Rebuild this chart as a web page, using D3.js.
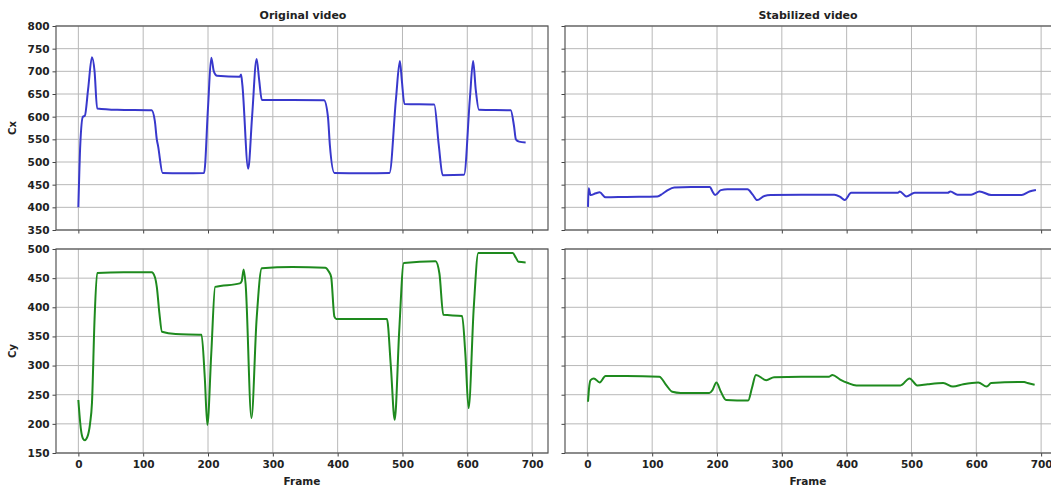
<html>
  <head>
    <title> Cx / Cy </title>
    <style>
      body { margin: 0; background: #fff; }
      text { font-family: "DejaVu Sans", sans-serif; }
    </style>
  </head>
  <body>
  <script src="https://d3js.org/d3.v7.min.js"></script>

    <script>
    var w = 1051;
    var h = 489;

    // frame numbers and values
    var origCxFrames = [0, 3, 7, 10, 15, 21, 25, 29, 60, 113, 118, 121, 123, 130, 160, 194, 200, 205, 209, 214, 249, 251, 253, 262, 268, 275, 279, 283, 330, 379, 385, 388, 395, 440, 480, 490, 496, 499, 503, 549, 556, 562, 595, 604, 609, 613, 618, 667, 672, 675, 680, 690];
    var origCxValues = [400, 540, 600, 602, 660, 731, 700, 618, 615, 614, 590, 550, 535, 476, 475, 476, 620, 730, 700, 690, 688, 693, 670, 485, 600, 727, 680, 637, 637, 636, 600, 537, 476, 475, 476, 640, 723, 680, 628, 627, 537, 471, 472, 640, 723, 660, 615, 614, 580, 550, 545, 543];

    var origCyFrames = [0, 4, 7, 10, 14, 18, 21, 25, 29, 70, 113, 118, 121, 125, 129, 150, 190, 195, 199, 205, 211, 249, 252, 255, 258, 267, 275, 283, 330, 381, 386, 390, 395, 398, 430, 476, 482, 488, 495, 502, 551, 557, 563, 592, 597, 602, 610, 617, 670, 675, 679, 690];
    var origCyValues = [241, 190, 175, 172, 178, 200, 236, 380, 459, 460, 460, 452, 435, 390, 358, 354, 353, 280, 198, 320, 435, 441, 445, 465, 440, 210, 380, 467, 469, 468, 462, 452, 384, 380, 380, 380, 300, 207, 360, 476, 479, 458, 387, 385, 320, 227, 400, 493, 493, 485, 478, 477];

    var stabCxFrames = [1, 2, 5, 13, 19, 28, 60, 108, 116, 124, 134, 160, 189, 193, 197, 206, 216, 247, 255, 262, 273, 283, 330, 381, 390, 397, 407, 479, 482, 492, 505, 556, 560, 571, 592, 605, 623, 670, 682, 692];
    var stabCxValues = [401, 442, 427, 431, 433, 422, 423, 424, 430, 438, 444, 445, 445, 435, 427, 438, 440, 440, 428, 416, 425, 427, 428, 428, 423, 416, 432, 432, 435, 424, 432, 432, 435, 428, 428, 435, 427, 427, 435, 438];

    var stabCyFrames = [1, 3, 5, 10, 19, 28, 60, 111, 122, 131, 144, 188, 193, 199, 206, 214, 248, 254, 260, 276, 288, 330, 373, 378, 390, 402, 415, 483, 497, 509, 525, 549, 564, 580, 603, 616, 623, 674, 679, 690];
    var stabCyValues = [238, 265, 275, 278, 271, 282, 282, 281, 266, 255, 253, 253, 258, 271, 255, 241, 240, 262, 284, 275, 280, 281, 281, 284, 276, 270, 266, 266, 278, 266, 268, 270, 264, 268, 271, 264, 270, 272, 270, 267];

    var xTicks = [0, 100, 200, 300, 400, 500, 600, 700];
    var cxTicks = [350, 400, 450, 500, 550, 600, 650, 700, 750, 800];
    var cyTicks = [150, 200, 250, 300, 350, 400, 450, 500];

    var titles = ['Original video', 'Stabilized video'];

    var svg = d3.select('body')
                .append('svg')
                .attr('width', w)
                .attr('height', h);

    var cols = [{left: 56, right: 548}, {left: 565, right: 1057}];
    var rows = [{top: 26, bottom: 230, ticks: cxTicks, domain: [350, 800], label: 'Cx', color: '#3838cc'},
                {top: 249, bottom: 453, ticks: cyTicks, domain: [150, 500], label: 'Cy', color: '#1e8a1e'}];

    var series = [
      [[origCxFrames, origCxValues], [stabCxFrames, stabCxValues]],
      [[origCyFrames, origCyValues], [stabCyFrames, stabCyValues]]
    ];

    rows.forEach(function(row, ri) {
      cols.forEach(function(col, ci) {
        var x = d3.scaleLinear().domain([-34.5, 724.5]).range([col.left, col.right]);
        var y = d3.scaleLinear().domain(row.domain).range([row.bottom, row.top]);
        var g = svg.append('g');

        // grid
        g.selectAll('.vg').data(xTicks).enter().append('line')
          .attr('x1', d => x(d)).attr('x2', d => x(d))
          .attr('y1', row.top).attr('y2', row.bottom)
          .attr('stroke', '#b8b8b8').attr('stroke-width', 1);
        g.selectAll('.hg').data(row.ticks).enter().append('line')
          .attr('x1', col.left).attr('x2', col.right)
          .attr('y1', d => y(d)).attr('y2', d => y(d))
          .attr('stroke', '#b8b8b8').attr('stroke-width', 1);

        // axes
        var xAxis = d3.axisBottom(x).tickValues(xTicks).tickSize(3.5).tickPadding(4);
        if (ri === 0) xAxis.tickFormat('');
        var ax = g.append('g').attr('transform', 'translate(0,' + row.bottom + ')').call(xAxis);
        var yAxis = d3.axisLeft(y).tickValues(row.ticks).tickSize(3.5).tickPadding(3);
        if (ci === 1) yAxis.tickFormat('');
        var ay = g.append('g').attr('transform', 'translate(' + col.left + ',0)').call(yAxis);
        [ax, ay].forEach(function(a) {
          a.select('.domain').remove();
          a.selectAll('line').attr('stroke', '#444');
          a.selectAll('text').attr('font-size', 10.5).attr('font-weight', 'bold')
            .attr('fill', '#222').style('font-family', '"DejaVu Sans", sans-serif');
        });

        // data line
        var fr = series[ri][ci][0], vals = series[ri][ci][1];
        var pts = fr.map((f, i) => [f, vals[i]]);
        g.append('path')
          .datum(pts)
          .attr('fill', 'none')
          .attr('stroke', row.color)
          .attr('stroke-width', 2)
          .attr('stroke-linejoin', 'round')
          .attr('d', d3.line().x(d => x(d[0])).y(d => y(d[1])).curve(d3.curveMonotoneX));

        // frame
        g.append('rect')
          .attr('x', col.left).attr('y', row.top)
          .attr('width', col.right - col.left).attr('height', row.bottom - row.top)
          .attr('fill', 'none').attr('stroke', '#555').attr('stroke-width', 1.2);

        if (ri === 0) {
          svg.append('text')
            .attr('x', ci === 0 ? 303 : 808)
            .attr('y', 19)
            .attr('text-anchor', 'middle')
            .attr('font-size', 11).attr('font-weight', 'bold').attr('fill', '#222')
            .text(titles[ci]);
        }
        if (ri === 1) {
          svg.append('text')
            .attr('x', ci === 0 ? 302 : 808)
            .attr('y', 485)
            .attr('text-anchor', 'middle')
            .attr('font-size', 10.5).attr('font-weight', 'bold').attr('fill', '#222')
            .text('Frame');
        }
        if (ci === 0) {
          svg.append('text')
            .attr('transform', 'translate(16,' + (row.top + row.bottom) / 2 + ') rotate(-90)')
            .attr('text-anchor', 'middle')
            .attr('font-size', 10).attr('font-weight', 'bold').attr('fill', '#222')
            .text(row.label);
        }
      });
    });
      </script>
    </body>
</html>
